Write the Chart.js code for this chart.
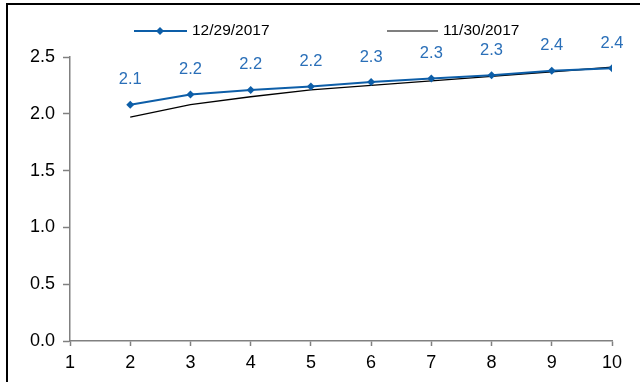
<!DOCTYPE html>
<html>
<head>
<meta charset="utf-8">
<script src="https://cdn.jsdelivr.net/npm/chart.js@4.4.1/dist/chart.umd.min.js"></script>
<style>
  html, body { margin: 0; padding: 0; background: #fff; }
  #wrap { position: relative; width: 640px; height: 382px; }
  #frame { position: absolute; left: 6px; top: 3px; width: 640px; height: 400px;
           border-left: 2px solid #000; border-top: 2px solid #000; box-sizing: border-box; }
</style>
</head>
<body>
<div id="wrap">
  <div id="frame"></div>
  <canvas id="c" width="640" height="382"></canvas>
</div>
<script>
// data
const tenors = [2, 3, 4, 5, 6, 7, 8, 9, 10];
const dec29 = [2.08, 2.17, 2.21, 2.24, 2.28, 2.31, 2.34, 2.38, 2.40];
const nov30 = [1.97, 2.08, 2.15, 2.21, 2.25, 2.29, 2.33, 2.37, 2.41];
const seriesNames = ['12/29/2017', '11/30/2017'];
const yTicks = [0, 0.5, 1.0, 1.5, 2.0, 2.5];

const blue = '#0d5ea8';
const labelBlue = '#2a6fb8';
const axisGray = '#808080';
const font = '"Liberation Sans", Arial, sans-serif';

// value labels above the blue points
const valueLabels = {
  id: 'valueLabels',
  afterDatasetsDraw(chart) {
    const ctx = chart.ctx;
    const meta = chart.getDatasetMeta(0);
    ctx.save();
    ctx.fillStyle = labelBlue;
    ctx.font = '16.5px ' + font;
    ctx.textAlign = 'center';
    ctx.textBaseline = 'middle';
    meta.data.forEach((pt, i) => {
      ctx.fillText(dec29[i].toFixed(1), pt.x, pt.y - 25);
    });
    ctx.restore();
  }
};

// legend drawn by hand, two items spread across the top
const legendBox = {
  id: 'legendBox',
  afterDraw(chart) {
    const ctx = chart.ctx;
    ctx.save();
    ctx.font = '15.5px ' + font;
    ctx.textBaseline = 'middle';
    // blue item
    ctx.strokeStyle = blue;
    ctx.lineWidth = 2;
    ctx.beginPath(); ctx.moveTo(134, 31); ctx.lineTo(187, 31); ctx.stroke();
    ctx.fillStyle = blue;
    ctx.beginPath();
    ctx.moveTo(160, 27); ctx.lineTo(164, 31); ctx.lineTo(160, 35); ctx.lineTo(156, 31);
    ctx.closePath(); ctx.fill();
    ctx.fillStyle = '#000';
    ctx.fillText(seriesNames[0], 192, 31);
    // black item
    ctx.strokeStyle = '#000';
    ctx.lineWidth = 1.2;
    ctx.beginPath(); ctx.moveTo(387, 31); ctx.lineTo(438, 31); ctx.stroke();
    ctx.fillText(seriesNames[1], 443, 31);
    ctx.restore();
  }
};

new Chart(document.getElementById('c'), {
  type: 'line',
  data: {
    datasets: [
      {
        label: seriesNames[0],
        data: tenors.map((t, i) => ({ x: t, y: dec29[i] })),
        borderColor: blue,
        backgroundColor: blue,
        borderWidth: 2,
        pointStyle: 'rectRot',
        pointRadius: 4,
        pointBorderWidth: 0,
        tension: 0
      },
      {
        label: seriesNames[1],
        data: tenors.map((t, i) => ({ x: t, y: nov30[i] })),
        borderColor: '#000',
        borderWidth: 1.3,
        pointRadius: 0,
        tension: 0
      }
    ]
  },
  options: {
    responsive: false,
    animation: false,
    layout: { padding: { left: 0, right: 28, top: 57, bottom: 0 } },
    plugins: {
      legend: { display: false },
      tooltip: { enabled: false }
    },
    scales: {
      x: {
        type: 'linear',
        min: 1,
        max: 10,
        afterFit(scale) { scale.height = 41; },
        afterBuildTicks(scale) { scale.ticks = [1,2,3,4,5,6,7,8,9,10].map(v => ({ value: v })); },
        ticks: { color: '#000', font: { family: font, size: 18 }, padding: 6, maxRotation: 0,
                 callback: v => String(v) },
        grid: { drawOnChartArea: false, color: axisGray, tickLength: 5, tickWidth: 1.5 },
        border: { color: axisGray, width: 1.5 }
      },
      y: {
        min: 0,
        max: 2.5,
        afterFit(scale) { scale.width = 70; },
        afterBuildTicks(scale) { scale.ticks = yTicks.map(v => ({ value: v })); },
        ticks: { color: '#000', font: { family: font, size: 18 }, padding: 8,
                 callback: v => Number(v).toFixed(1) },
        grid: { drawOnChartArea: false, color: axisGray, tickLength: 7, tickWidth: 1.5 },
        border: { color: axisGray, width: 1.5 }
      }
    }
  },
  plugins: [valueLabels, legendBox]
});
</script>
</body>
</html>
